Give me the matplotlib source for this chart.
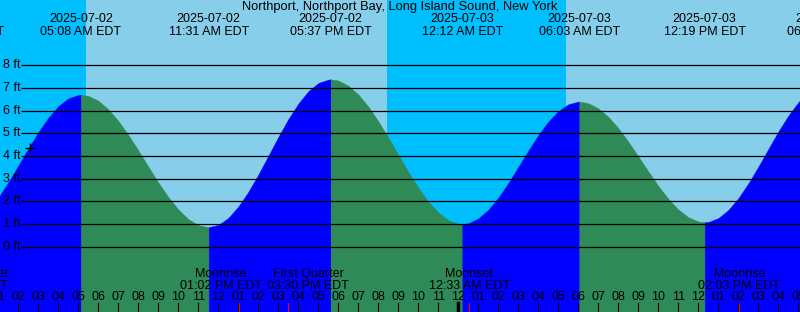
#! /usr/bin/python
# -*- coding: utf-8 -*-

import matplotlib
matplotlib.use("Agg")

import numpy as np
import pandas as pd
import matplotlib.pyplot as plt
from matplotlib.transforms import blended_transform_factory

plt.rcParams['font.family'] = ['Liberation Sans', 'DejaVu Sans']

title = "Northport, Northport Bay, Long Island Sound, New York"
t0 = pd.Timestamp("2025-07-02 00:00")
view_start = "2025-07-02 01:05"
view_hours = 40

# high / low tides
hilo_when = ["2025-07-01 23:15", "2025-07-02 05:08", "2025-07-02 11:31", "2025-07-02 17:37",
             "2025-07-03 00:12", "2025-07-03 06:03", "2025-07-03 12:19", "2025-07-03 18:28"]
hilo_ft = [0.99, 6.70, 0.86, 7.38, 1.00, 6.40, 1.08, 7.20]

# half-hourly heights, from 2025-07-02 01:00
reading_start = "2025-07-02 01:00"
reading_step = 0.5
reading_ft = [2.17, 2.84, 3.58, 4.33, 5.05, 5.69, 6.20, 6.54, 6.69,
              6.65, 6.44, 6.06, 5.55, 4.93, 4.25, 3.53, 2.83, 2.19, 1.64, 1.22, 0.95, 0.86,
              0.96, 1.27, 1.77, 2.42, 3.18, 4.01, 4.84, 5.63, 6.31, 6.86, 7.22, 7.37,
              7.33, 7.10, 6.71, 6.18, 5.53, 4.81, 4.05, 3.30, 2.60, 1.99, 1.51, 1.17,
              1.01, 1.03, 1.25, 1.63, 2.16, 2.81, 3.52, 4.24, 4.92, 5.52, 5.98, 6.28,
              6.40, 6.33, 6.10, 5.73, 5.23, 4.63, 3.98, 3.32, 2.68, 2.11, 1.64, 1.30,
              1.11, 1.09, 1.26, 1.62, 2.14, 2.79, 3.53, 4.31, 5.08, 5.78, 6.37, 6.83, 7.11]

# night = between sunset and sunrise
night_from = ["2025-07-01 20:25", "2025-07-02 20:25"]
night_to = ["2025-07-02 05:24", "2025-07-03 05:22"]

moon_what = ["Moonset", "Moonrise", "First Quarter", "Moonset", "Moonrise"]
moon_when = ["2025-07-01 23:58", "2025-07-02 13:02", "2025-07-02 15:30",
             "2025-07-03 00:33", "2025-07-03 14:03"]
moon_shift = [1.5, -0.9, 1.0, 0.0, 0.0]   # label nudges, hours
moon_ha = ["right", "center", "center", "center", "center"]

now_when = "2025-07-02 02:35"
now_ft = 4.34

levels = range(0, 9)


def hrs(s):
  return (pd.Timestamp(s) - t0) / pd.Timedelta(hours=1)


x0 = hrs(view_start)
x1 = x0 + view_hours
ybot, ytop = -2.88, 10.88

fig = plt.figure(figsize=(8, 3.12), dpi=100)
ax = fig.add_axes([0, 0, 1, 1])
ax.set_xlim(x0, x1)
ax.set_ylim(ybot, ytop)
ax.set_axis_off()
tr = blended_transform_factory(ax.transData, ax.transAxes)

# day / night
ax.axvspan(x0 - 5, x1 + 5, color="#87CEEB", lw=0, zorder=0)
for a, b in zip(night_from, night_to):
  ax.axvspan(hrs(a), hrs(b), color="#00BFFF", lw=0, zorder=0)

# water, blue while rising, green while falling
ht = np.array([hrs(s) for s in hilo_when])
rt = hrs(reading_start) + reading_step * np.arange(len(reading_ft))
t = np.concatenate([ht, rt])
h = np.concatenate([hilo_ft, reading_ft])
order = np.argsort(t)
t, h = t[order], h[order]
for i in range(len(ht) - 1):
  m = (t >= ht[i]) & (t <= ht[i + 1])
  col = "#0000FF" if hilo_ft[i + 1] > hilo_ft[i] else "#2E8B57"
  ax.fill_between(t[m], ybot, h[m], color=col, lw=0.3, zorder=1)

# level lines
ax.hlines(list(levels), x0 + 1.03, x1, color="black", lw=0.9, zorder=2)
for lv in levels:
  ax.text(x0 + 0.13, lv, "%d ft" % lv, ha="left", va="center", fontsize=9, zorder=3)

ax.plot(hrs(now_when), now_ft, marker="+", color="black", ms=7.5, mew=1.0, zorder=3)

ax.text(0.5, 1 - 6.8 / 312, title, transform=ax.transAxes, ha="center", va="center", fontsize=9.3)

# tide labels on top
for s in hilo_when:
  ts = pd.Timestamp(s)
  ax.text(hrs(s), 1 - 19.5 / 312, ts.strftime("%Y-%m-%d"), transform=tr,
          ha="center", va="center", fontsize=9)
  ax.text(hrs(s), 1 - 31.7 / 312, ts.strftime("%I:%M %p EDT"), transform=tr,
          ha="center", va="center", fontsize=9)

# hour ticks at the bottom
for hh in range(int(np.floor(x0)), int(np.ceil(x1)) + 1):
  lw = 2.5 if hh % 24 == 0 else 0.8
  ax.plot([hh, hh], [0, 9.5 / 312], transform=tr, color="black", lw=lw, zorder=3)
  ax.text(hh, 1 - 296.5 / 312, "%02d" % ((hh - 1) % 12 + 1), transform=tr,
          ha="center", va="center", fontsize=9)

# moon events
for what, s, dx, ha in zip(moon_what, moon_when, moon_shift, moon_ha):
  ts = pd.Timestamp(s)
  x = hrs(s)
  ax.plot([x, x], [0, 9.5 / 312], transform=tr, color="red", lw=0.8, zorder=4)
  ax.text(x + dx, 1 - 273.8 / 312, what, transform=tr, ha=ha, va="center", fontsize=9)
  ax.text(x + dx, 1 - 285.7 / 312, ts.strftime("%I:%M %p EDT"), transform=tr,
          ha=ha, va="center", fontsize=9)

fig.savefig("out.png", dpi=100)
